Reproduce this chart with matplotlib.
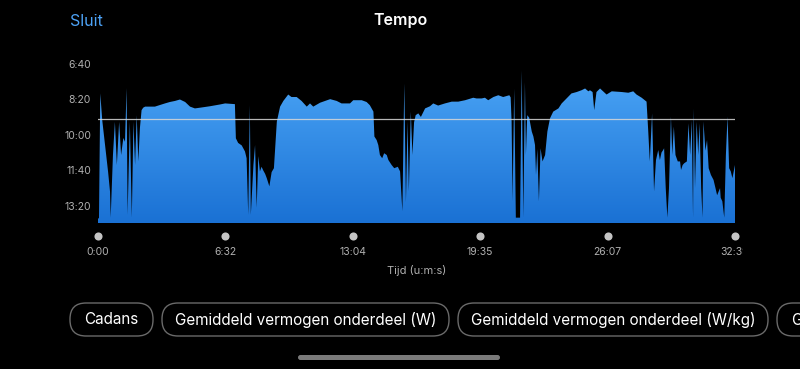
import matplotlib.pyplot as plt
import numpy as np
from matplotlib.colors import LinearSegmentedColormap
from matplotlib.patches import FancyBboxPatch
from matplotlib.transforms import Bbox, TransformedBbox

plt.rcParams['font.family'] = ['Inter', 'DejaVu Sans']

# Pace profile (elapsed seconds, pace in seconds per km)
time_s = [0, 3, 7, 13, 31, 37, 39, 46, 52, 58, 65, 71, 78, 83, 88, 91, 98, 104, 109, 114,
          119, 124, 129, 134, 139, 145, 175, 206, 221, 237, 252, 268, 283, 298, 314, 344,
          375, 391, 421, 424, 431, 442, 452, 457, 462, 467, 470, 478, 483, 488, 493, 498,
          503, 508, 514, 519, 527, 534, 541, 550, 560, 570, 585, 595, 611, 626, 642, 652,
          662, 683, 714, 734, 749, 775, 785, 811, 826, 836, 847, 850, 857, 862, 867, 874,
          880, 888, 893, 903, 911, 922, 929, 936, 942, 947, 952, 956, 962, 967, 972, 977,
          985, 993, 1006, 1021, 1031, 1046, 1067, 1088, 1108, 1129, 1154, 1164, 1180, 1190,
          1200, 1216, 1231, 1246, 1265, 1269, 1272, 1275, 1280, 1285, 1298, 1303, 1308, 1313,
          1316, 1320, 1326, 1334, 1339, 1344, 1347, 1351, 1356, 1361, 1367, 1375, 1382, 1390,
          1400, 1416, 1426, 1441, 1456, 1472, 1487, 1498, 1508, 1513, 1521, 1526, 1533, 1544,
          1564, 1580, 1611, 1631, 1646, 1656, 1672, 1687, 1692, 1697, 1704, 1710, 1716, 1723,
          1728, 1733, 1738, 1741, 1746, 1751, 1756, 1762, 1766, 1771, 1776, 1783, 1790, 1793,
          1798, 1803, 1811, 1816, 1821, 1826, 1830, 1832, 1836, 1841, 1846, 1850, 1855, 1859,
          1862, 1868, 1873, 1878, 1885, 1893, 1899, 1904, 1913, 1915, 1920, 1926, 1931, 1936,
          1941, 1946, 1951, 1959]
pace_s = [835, 835, 484, 559, 704, 760, 833, 657, 564, 685, 564, 657, 609, 620, 469, 825, 564, 833, 564, 685,
          545, 675, 580, 531, 524, 521, 521, 512, 508, 505, 501, 508, 521, 526, 524, 520,
          515, 512, 514, 610, 623, 630, 647, 666, 825, 517, 825, 685, 629, 805, 660, 703,
          690, 700, 710, 722, 745, 705, 694, 563, 521, 505, 487, 494, 494, 505, 521, 512,
          521, 510, 500, 505, 512, 512, 503, 503, 508, 517, 535, 605, 615, 629, 657, 666,
          652, 657, 671, 685, 694, 690, 703, 815, 456, 790, 563, 759, 535, 657, 565, 545,
          540, 550, 526, 520, 512, 518, 512, 507, 507, 503, 496, 498, 498, 496,
          503, 494, 489, 494, 489, 495, 563, 787, 470, 833, 833, 419, 833, 452,
          657, 545, 552, 591, 605, 629, 713, 640, 787, 638, 675, 657, 591, 554,
          535, 526, 512, 498, 484, 480, 475, 470, 478, 475, 480, 531, 480, 470,
          487, 478, 480, 482, 478, 487, 496, 507, 587, 675, 540, 759, 671, 643,
          671, 650, 643, 638, 750, 833, 750, 549, 657, 577, 657, 675, 675, 699,
          685, 680, 675, 568, 657, 560, 833, 526, 750, 563, 657, 568, 750, 833,
          563, 645, 615, 694, 713, 727, 750, 770, 750, 777, 787, 833, 657, 549,
          694, 703, 722, 685]
avg_pace = 556
x_ticks = [0, 392, 784, 1175, 1567, 1959]
y_ticks = [400, 500, 600, 700, 800]
buttons = ['Cadans', 'Gemiddeld vermogen onderdeel (W)', 'Gemiddeld vermogen onderdeel (W/kg)', 'Gemiddeld vermogen']


def mmss(v):
    v = int(round(v))
    return f'{v // 60}:{v % 60:02d}'


W, H = 800, 369
fig = plt.figure(figsize=(W / 100, H / 100), dpi=100, facecolor='black')

# overlay in pixel units for the app chrome
ui = fig.add_axes([0, 0, 1, 1], zorder=0)
ui.set_xlim(0, W)
ui.set_ylim(H, 0)
ui.axis('off')

ui.text(70, 21, 'Sluit', color='#4da3f7', fontsize=11.5, ha='left', va='center')
ui.text(400, 21, 'Tempo', color='white', fontsize=11.5, fontweight='semibold', ha='center', va='center')

box_x = [(70, 153), (162, 449), (458, 768), (777, 1010)]
for (x0, x1), label in zip(box_x, buttons):
    ui.add_patch(FancyBboxPatch((x0, 303), x1 - x0, 33,
                                boxstyle='round,pad=0,rounding_size=16',
                                facecolor='black', edgecolor='#6a6a6a', lw=1))
    if x1 > W:
        # partially scrolled-off chip: text starts after the left padding
        ui.text(x0 + 15, 320, label, color='white', fontsize=11, ha='left', va='center', clip_on=True)
    else:
        ui.text((x0 + x1) / 2, 320, label, color='white', fontsize=11, ha='center', va='center')

ui.add_patch(FancyBboxPatch((298, 355), 202, 5, boxstyle='round,pad=0,rounding_size=2.5',
                            facecolor='#7a7a7a', edgecolor='none'))

# chart
ax = fig.add_axes([98 / W, 1 - 223 / H, (735 - 98) / W, (223 - 60) / H], zorder=1)
ax.set_facecolor('none')
ax.set_xlim(0, 1959)
ax.set_ylim(848, 390)

bottom = 848
poly = ax.fill_between(time_s, pace_s, bottom, facecolor='none', edgecolor='none')
cmap = LinearSegmentedColormap.from_list('pace', ['#4ea8f8', '#1a71d4'])
grad = np.linspace(0, 1, 256).reshape(-1, 1)
img = ax.imshow(grad, cmap=cmap, aspect='auto', extent=[0, 1959, bottom, 390], origin='upper', zorder=1)
img.set_clip_path(poly.get_paths()[0], transform=ax.transData)

ax.axhline(avg_pace, color='#d8d8d8', lw=0.9, alpha=0.85, zorder=2)

for s in ax.spines.values():
    s.set_visible(False)
ax.set_xticks(x_ticks)
ax.set_xticklabels([mmss(v) for v in x_ticks])
ax.set_yticks(y_ticks)
ax.set_yticklabels([mmss(v) for v in y_ticks])
ax.tick_params(axis='both', length=0, colors='#b0b0b0', labelsize=7.5)
ax.tick_params(axis='x', pad=17)
ax.tick_params(axis='y', pad=5)

ax.scatter(x_ticks, [-0.08] * len(x_ticks), s=34, color='#c4c4c4', transform=ax.get_xaxis_transform(),
           clip_on=False, zorder=3, linewidths=0)

last = ax.xaxis.get_major_ticks()[-1].label1
last.set_clip_box(TransformedBbox(Bbox([[0, 0], [743 / W, 1]]), fig.transFigure))
last.set_clip_on(True)

ax.set_xlabel('Tijd (u:m:s)', color='#b0b0b0', fontsize=8, labelpad=6)

fig.savefig('out.png', dpi=100, facecolor='black')
